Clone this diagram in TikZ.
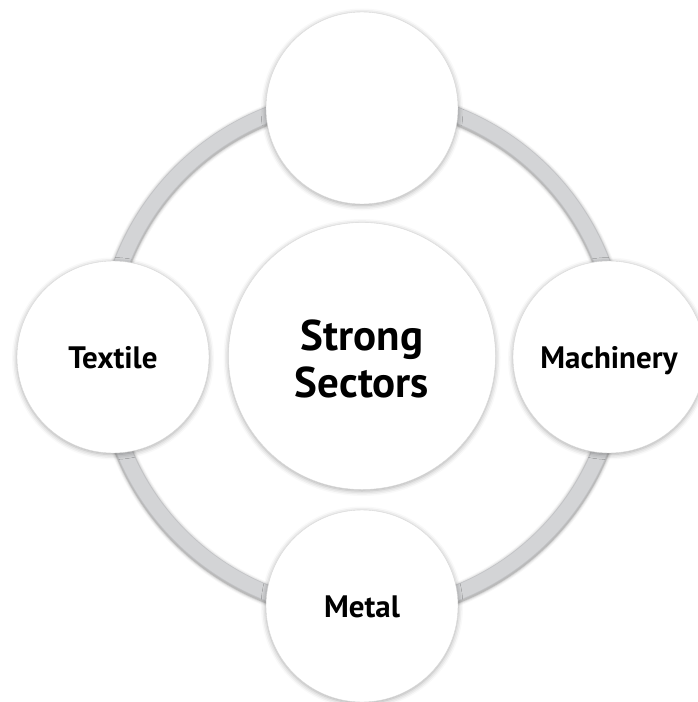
\documentclass[tikz,border=0pt]{standalone}
\usepackage{fontspec}
\setmainfont{PT Sans}
\usetikzlibrary{shadows.blur}
\definecolor{ringgray}{RGB}{211,212,214}
\definecolor{ringedge}{RGB}{195,196,199}
\tikzset{
  bub/.style={circle, inner sep=0pt, minimum size=192pt, fill=white, draw=black!15, line width=0.4pt,
    blur shadow={shadow xshift=0pt, shadow yshift=-1.5pt, shadow blur radius=5pt, shadow opacity=35}},
  bigbub/.style={bub, minimum size=267pt},
  lbl/.style={font=\bfseries\fontsize{31}{34}\selectfont, text height=22pt, text depth=0pt},
  biglbl/.style={font=\bfseries\fontsize{43}{47}\selectfont, align=center}
}
\begin{document}
\begin{tikzpicture}[x=1pt,y=-1pt]
\useasboundingbox (0,0) rectangle (697,702);
% ring with soft shadow
\coordinate (rc) at (362,354);
\foreach \w/\o in {23/0.03,21/0.05,19/0.08,17.5/0.14}{
  \draw[black, opacity=\o, line width=\w pt] ([yshift=-1.5pt]rc) circle[radius=257];
}
\draw[ringedge, line width=16pt] (rc) circle[radius=257];
\draw[ringgray, line width=14.5pt] (rc) circle[radius=257];
% bubbles
\node[bub] (top) at (362,108) {};
\node[bub] (left) at (113,357) {};
\node[bub] (right) at (609,357) {};
\node[bub] (bottom) at (362,606) {};
\node[bigbub] (center) at (362,356) {};
% labels
\node[lbl] (lt) at (left) {Textile};
\node[lbl] (lr) at (right) {Machinery};
\node[lbl] (lb) at (bottom) {Metal};
\node[biglbl, anchor=base] (lc) at (362,397) {Strong\\Sectors};
\end{tikzpicture}
\end{document}
